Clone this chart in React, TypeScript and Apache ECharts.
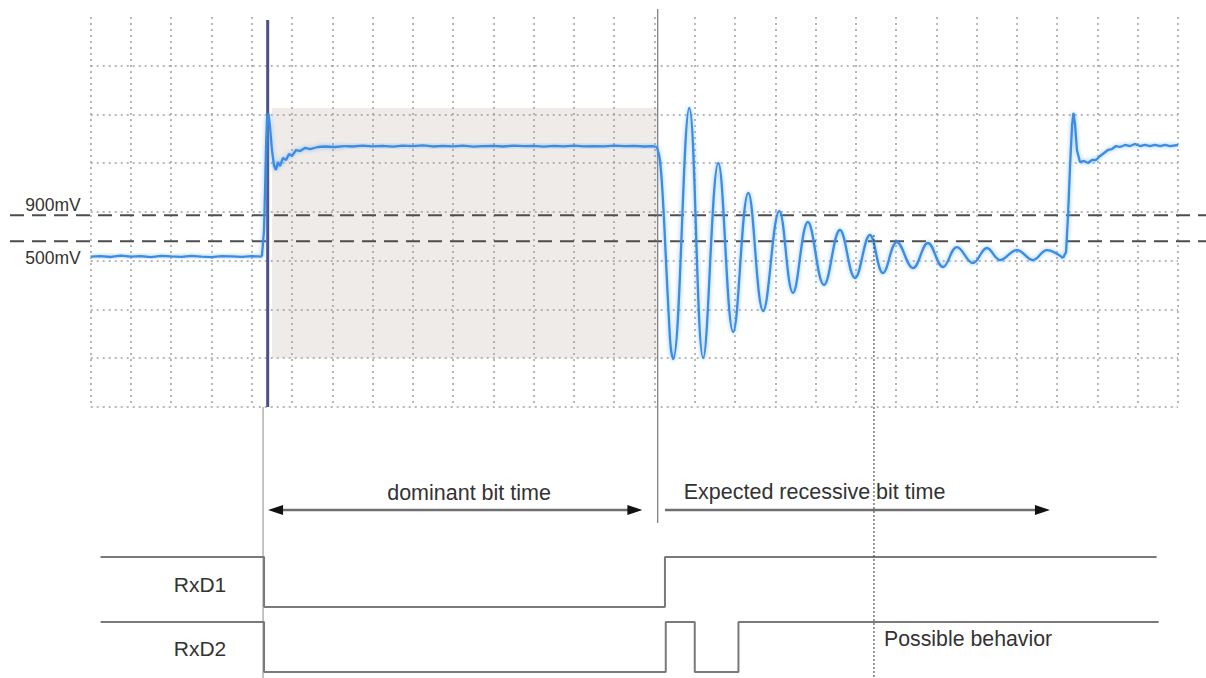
import React, { useEffect, useRef } from "react";
import * as echarts from "echarts";

// ---------- scales: time in ns (200 ns / division), differential voltage in mV ----------
const TIME_MIN = 0;
const TIME_MAX = 5400;
const TIME_DIV = 200;
const VOLT_MIN = -2050;
const VOLT_MAX = 3950;
const GRID_ROWS = 7;

// ---------- threshold levels ----------
const thresholdValues = [900, 500];
const thresholdLabels = ["900mV", "500mV"];

// ---------- measured bus waveform [time ns, mV] ----------
const idleRecessive: number[][] = [
  [0, 265], [50, 272], [100, 258], [150, 280], [200, 262], [250, 270], [300, 255], [350, 276],
  [400, 266], [450, 259], [500, 274], [550, 263], [600, 257], [650, 270], [700, 266], [750, 259],
  [800, 271], [850, 262],
];
const dominantEdge: number[][] = [
  [850, 262], [855, 442], [861, 673], [866, 1288], [871, 1981], [876, 2396], [883, 2458], [890, 2288],
  [900, 1904], [910, 1673], [920, 1596], [930, 1719], [940, 1658], [955, 1781], [970, 1750],
  [985, 1842], [1000, 1812], [1020, 1904], [1040, 1888], [1064, 1935], [1089, 1919], [1129, 1950],
  [1164, 1958], [1213, 1950], [1263, 1965],
];
const dominantPlateau: number[][] = [
  [1263, 1965], [1300, 1958], [1350, 1972], [1400, 1960], [1450, 1966], [1500, 1955], [1550, 1970],
  [1600, 1962], [1650, 1975], [1700, 1958], [1750, 1966], [1800, 1960], [1850, 1972], [1900, 1957],
  [1950, 1965], [2000, 1968], [2050, 1958], [2100, 1970], [2150, 1962], [2200, 1966], [2250, 1956],
  [2300, 1968], [2350, 1961], [2400, 1972], [2450, 1959], [2500, 1965], [2550, 1960], [2600, 1970],
  [2650, 1962], [2700, 1966], [2750, 1958], [2790, 1965], [2812, 1950],
];
const ringing: number[][] = [
  [2812, 1950], [2827, 1750], [2842, 1135], [2857, 211], [2872, -712], [2882, -1173], [2893, -1312],
  [2973, 2550], [3042, -1296], [3117, 1704], [3191, -896], [3266, 1242], [3340, -573], [3420, 965],
  [3488, -296], [3562, 796], [3642, -173], [3721, 673], [3796, -65], [3870, 596], [3935, 11],
  [4004, 488], [4084, 88], [4158, 473], [4233, 104], [4302, 411], [4382, 165], [4451, 396],
  [4516, 211], [4600, 365], [4680, 211], [4749, 365], [4829, 242],
];
const secondEdge: number[][] = [
  [4829, 242], [4844, 335], [4854, 904], [4864, 1673], [4874, 2288], [4881, 2473], [4889, 2288],
  [4898, 1904], [4913, 1719], [4933, 1735], [4953, 1704], [4973, 1750], [4993, 1750], [5013, 1812],
  [5033, 1858], [5052, 1904], [5072, 1919], [5092, 1965], [5112, 1950], [5137, 1981], [5162, 1965],
  [5186, 1996], [5211, 1965], [5236, 1981], [5261, 1965], [5286, 1981], [5311, 1965], [5336, 1981],
  [5360, 1965], [5400, 1981],
];

// shaded dominant window [t0, t1] x [vLow, vHigh]
const dominantWindowTime = [900, 2812];
const dominantWindowVolt = [-1296, 2550];

// ---------- receiver outputs [time ns, logic bit] ----------
const rxd1Bits: number[][] = [[49, 1], [861, 1], [861, 0], [2852, 0], [2852, 1], [5294, 1]];
const rxd2Bits: number[][] = [
  [49, 1], [861, 1], [861, 0], [2856, 0], [2856, 1], [3000, 1], [3000, 0], [3217, 0], [3217, 1], [5304, 1],
];
const laneNames = ["RxD1", "RxD2"];

// ---------- annotation times (ns) ----------
const triggerTime = 856;
const cursorTime = 879;
const recessiveStart = 2816;
const sampleTime = 3890;
const sampleVolt = 596;
const dominantArrow = [881, 2740];
const recessiveArrow = [2852, 4764];
const annotationTexts = ["dominant bit time", "Expected recessive bit time", "Possible behavior"];

const FONT = '"Liberation Sans", Arial, Helvetica, sans-serif';

export default function App() {
  const ref = useRef<HTMLDivElement>(null);

  useEffect(() => {
    const chart = echarts.init(ref.current!, null, { renderer: "svg" });
    const lanes = [1.3, 0]; // vertical offset of each logic lane
    const gridLeft = 90.7;
    const gridRight = 28;
    const dotted = { color: "#a0a0a0", width: 1.5, type: [2, 4] as any };
    const hiddenX = (gridIndex: number, split: boolean) => ({
      type: "value" as const, gridIndex, min: TIME_MIN, max: TIME_MAX, interval: TIME_DIV,
      axisLine: { show: false }, axisTick: { show: false }, axisLabel: { show: false },
      splitLine: { show: split, lineStyle: dotted }, z: 3,
    });
    const waveStyle = {
      type: "line" as const, xAxisIndex: 0, yAxisIndex: 0, symbol: "none", silent: true, z: 6,
      lineStyle: { color: "#3a8de4", width: 2.3, shadowBlur: 4, shadowColor: "rgba(90,165,240,0.7)" },
    };
    const logicStyle = {
      type: "line" as const, xAxisIndex: 2, yAxisIndex: 2, symbol: "none", silent: true, z: 6,
      lineStyle: { color: "#7a7a7a", width: 2 },
    };

    chart.setOption({
      animation: false,
      backgroundColor: "#ffffff",
      grid: [
        { left: gridLeft, right: gridRight, top: 17, bottom: 271 },
        { left: gridLeft, right: gridRight, top: 65.7, bottom: 271 },
        { left: gridLeft, right: gridRight, top: 407, bottom: 0 },
      ],
      xAxis: [hiddenX(0, true), hiddenX(1, false), hiddenX(2, false)],
      yAxis: [
        { type: "value", gridIndex: 0, min: VOLT_MIN, max: VOLT_MAX, show: false, splitLine: { show: false } },
        {
          type: "value", gridIndex: 1, min: 0, max: GRID_ROWS, interval: 1, z: 3,
          axisLine: { show: false }, axisTick: { show: false }, axisLabel: { show: false },
          splitLine: { show: true, lineStyle: dotted },
        },
        { type: "value", gridIndex: 2, min: -0.12, max: 5.3, show: false, splitLine: { show: false } },
      ],
      series: [
        {
          type: "line", xAxisIndex: 0, yAxisIndex: 0, data: [], z: 1, silent: true,
          markArea: {
            silent: true,
            itemStyle: { color: "#efebe8" },
            data: [[
              { coord: [dominantWindowTime[0], dominantWindowVolt[1]] },
              { coord: [dominantWindowTime[1], dominantWindowVolt[0]] },
            ]],
          },
        },
        { ...waveStyle, data: idleRecessive },
        { ...waveStyle, data: dominantEdge },
        { ...waveStyle, data: dominantPlateau },
        { ...waveStyle, data: ringing, smooth: 0.4 },
        { ...waveStyle, data: secondEdge },
        { ...logicStyle, data: rxd1Bits.map(([t, b]) => [t, b + lanes[0]]) },
        { ...logicStyle, data: rxd2Bits.map(([t, b]) => [t, b + lanes[1]]) },
      ],
    });

    const p0 = (t: number, v: number) =>
      chart.convertToPixel({ xAxisIndex: 0, yAxisIndex: 0 }, [t, v]) as number[];
    const p2 = (t: number, v: number) =>
      chart.convertToPixel({ xAxisIndex: 2, yAxisIndex: 2 }, [t, v]) as number[];

    const els: any[] = [];
    const line = (a: number[], b: number[], stroke: string, lineWidth: number, dash?: number[], z = 4) =>
      els.push({
        type: "line", z, silent: true,
        shape: { x1: a[0], y1: a[1], x2: b[0], y2: b[1] },
        style: { stroke, lineWidth, lineDash: dash },
      });
    const text = (s: string, x: number, y: number, size: number, align: string) =>
      els.push({
        type: "text", x, y, z: 8, silent: true,
        style: {
          text: s, fill: "#333333", fontSize: size, fontFamily: FONT,
          textAlign: align, textVerticalAlign: "middle", align, verticalAlign: "middle",
        },
      });
    const head = (tip: number[], dir: number) =>
      els.push({
        type: "polygon", z: 7, silent: true,
        shape: { points: [[tip[0], tip[1]], [tip[0] - dir * 15, tip[1] - 5], [tip[0] - dir * 15, tip[1] + 5]] },
        style: { fill: "#111111" },
      });

    // threshold lines
    const W = 1206;
    thresholdValues.forEach((v, i) => {
      const y = p0(0, v)[1];
      line([10, y], [W, y], "#4d4d4d", 2, [14, 8], 4);
      text(thresholdLabels[i], gridLeft - 10, i === 0 ? y - 10 : y + 17, 17.5, "right");
    });

    // vertical markers
    line(p0(cursorTime, 3904), p0(cursorTime, VOLT_MIN), "#4b4f8c", 3, undefined, 5);
    line(p2(triggerTime, 5.3), p2(triggerTime, -0.12), "#8a8a8a", 1);
    line(p0(recessiveStart, 4073), p2(recessiveStart, 2.98), "#777777", 1.2);
    line(p0(sampleTime, sampleVolt), p2(sampleTime, -0.12), "#333333", 1, [2, 2], 7);

    // bit time arrows
    const arrowLevel = 3.24;
    const dA = p2(dominantArrow[0], arrowLevel);
    const dB = p2(dominantArrow[1], arrowLevel);
    line([dA[0] + 10, dA[1]], [dB[0] - 10, dB[1]], "#707070", 2.5);
    head(dA, -1);
    head(dB, 1);
    const rA = p2(recessiveArrow[0], arrowLevel);
    const rB = p2(recessiveArrow[1], arrowLevel);
    line(rA, [rB[0] - 10, rB[1]], "#707070", 2.5);
    head(rB, 1);

    // texts
    const t1 = p2(1879, 3.59);
    text(annotationTexts[0], t1[0], t1[1], 21.5, "center");
    const t2 = p2(3595, 3.61);
    text(annotationTexts[1], t2[0], t2[1], 21.5, "center");
    const t3 = p2(3940, 0.67);
    text(annotationTexts[2], t3[0], t3[1], 21.3, "left");
    const l1 = p2(543, 1.76);
    text(laneNames[0], l1[0], l1[1], 21, "center");
    const l2 = p2(543, 0.48);
    text(laneNames[1], l2[0], l2[1], 21, "center");

    chart.setOption({ graphic: { elements: els } });
    return () => chart.dispose();
  }, []);

  return (
    <div
      ref={ref}
      style={{ position: "fixed", left: 0, top: 0, width: 1206, height: 678, background: "#fff" }}
    />
  );
}
